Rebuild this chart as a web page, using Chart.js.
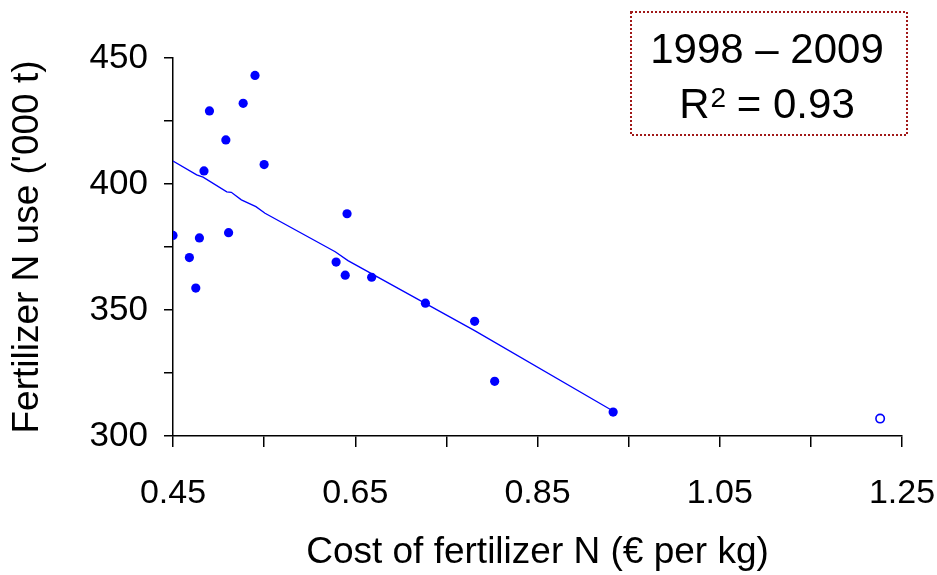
<!DOCTYPE html>
<html>
<head>
<meta charset="utf-8">
<script src="https://cdn.jsdelivr.net/npm/chart.js@4/dist/chart.umd.min.js"></script>
<style>
  html, body { margin: 0; padding: 0; background: #fff; }
  canvas { display: block; }
</style>
</head>
<body>
<canvas id="nChart" width="937" height="575"></canvas>
<script>
// cost of fertilizer N (euro per kg) vs N use ('000 t)
var costN = [0.540, 0.527, 0.490, 0.508, 0.550, 0.484, 0.450, 0.479, 0.511, 0.468, 0.475,
             0.641, 0.629, 0.639, 0.668, 0.727, 0.781, 0.803, 0.933];
var useN  = [443.1, 432.0, 429.0, 417.5, 407.7, 405.2, 379.6, 378.6, 380.7, 370.8, 358.7,
             388.2, 369.0, 363.8, 363.0, 352.7, 345.5, 321.7, 309.5];

// excluded year (open marker)
var outlierCost = [1.226];
var outlierUse  = [306.9];

// fitted line as drawn
var trendCost = [0.450, 0.476, 0.483, 0.509, 0.514, 0.525, 0.541, 0.551, 0.628, 0.642, 0.781, 0.931];
var trendUse  = [409.1, 403.6, 402.7, 396.9, 396.7, 393.7, 391.0, 388.4, 373.1, 369.6, 341.8, 310.3];

var xTickValues = [0.45, 0.55, 0.65, 0.75, 0.85, 0.95, 1.05, 1.15, 1.25];
var xTickLabels = ['0.45', '', '0.65', '', '0.85', '', '1.05', '', '1.25'];
var yTickValues = [300, 325, 350, 375, 400, 425, 450];
var yTickLabels = ['300', '', '350', '', '400', '', '450'];

var boxLine1 = '1998 \u2013 2009';
var boxR2 = '0.93';

function toPoints(xs, ys) {
    return xs.map(function(x, i) { return {x: x, y: ys[i]}; });
}

var fontName = '"Liberation Sans", Arial, sans-serif';

var boxPlugin = {
    id: 'r2box',
    afterDraw: function(chart) {
        var ctx = chart.ctx;
        ctx.save();
        ctx.strokeStyle = '#a01818';
        ctx.lineWidth = 2;
        ctx.setLineDash([2, 2]);
        ctx.strokeRect(631, 12, 276, 123);
        ctx.setLineDash([]);

        ctx.fillStyle = '#000';
        ctx.textBaseline = 'alphabetic';
        ctx.textAlign = 'center';
        ctx.font = '42px ' + fontName;
        ctx.fillText(boxLine1, 767, 63);

        // R^2 = 0.93
        ctx.textAlign = 'left';
        var big = '42px ' + fontName, small = '28px ' + fontName;
        ctx.font = big;
        var wR = ctx.measureText('R').width;
        var wRest = ctx.measureText(' = ' + boxR2).width;
        ctx.font = small;
        var w2 = ctx.measureText('2').width;
        var x0 = 767 - (wR + w2 + wRest) / 2;
        ctx.font = big;
        ctx.fillText('R', x0, 118);
        ctx.font = small;
        ctx.fillText('2', x0 + wR + 1, 107);
        ctx.font = big;
        ctx.fillText(' = ' + boxR2, x0 + wR + w2, 118);
        ctx.restore();
    }
};

var nCtx = document.getElementById('nChart').getContext('2d');

var nChart = new Chart(nCtx, {
    type: 'scatter',
    data: {
        datasets: [{
            data: toPoints(costN, useN),
            backgroundColor: '#0000ff',
            borderWidth: 0,
            pointRadius: 4.6
        }, {
            data: toPoints(outlierCost, outlierUse),
            backgroundColor: '#ffffff',
            borderColor: '#0000ff',
            borderWidth: 1.6,
            pointRadius: 4.2
        }, {
            data: toPoints(trendCost, trendUse),
            showLine: true,
            borderColor: '#0000ff',
            borderWidth: 1.3,
            pointRadius: 0,
            tension: 0
        }]
    },
    options: {
        responsive: false,
        animation: false,
        layout: {
            padding: {left: 0, right: 35, top: 58, bottom: 0}
        },
        plugins: {
            legend: {display: false},
            tooltip: {enabled: false}
        },
        scales: {
            x: {
                type: 'linear',
                min: 0.45,
                max: 1.25,
                afterBuildTicks: function(scale) {
                    scale.ticks = xTickValues.map(function(v) { return {value: v}; });
                },
                afterFit: function(scale) {
                    scale.height = 139;
                    scale.paddingLeft = 0;
                    scale.paddingRight = 0;
                },
                border: {display: true, color: '#000', width: 1.5},
                grid: {
                    display: true,
                    drawOnChartArea: false,
                    drawTicks: true,
                    tickLength: 11,
                    color: '#000',
                    lineWidth: 1.5
                },
                ticks: {
                    autoSkip: false,
                    maxRotation: 0,
                    padding: 26,
                    color: '#000',
                    font: {family: fontName, size: 34},
                    callback: function(v, i) { return xTickLabels[i]; }
                },
                title: {
                    display: true,
                    text: 'Cost of fertilizer N (\u20ac per kg)',
                    color: '#000',
                    font: {family: fontName, size: 37},
                    padding: {top: 0, bottom: 0}
                }
            },
            y: {
                min: 300,
                max: 450,
                afterBuildTicks: function(scale) {
                    scale.ticks = yTickValues.map(function(v) { return {value: v}; });
                },
                afterFit: function(scale) {
                    scale.width = 173;
                    scale.paddingTop = 0;
                    scale.paddingBottom = 0;
                },
                border: {display: true, color: '#000', width: 1.5},
                grid: {
                    display: true,
                    drawOnChartArea: false,
                    drawTicks: true,
                    tickLength: 9,
                    color: '#000',
                    lineWidth: 1.5
                },
                ticks: {
                    autoSkip: false,
                    padding: 16,
                    color: '#000',
                    font: {family: fontName, size: 35},
                    callback: function(v, i) { return yTickLabels[i]; }
                },
                title: {
                    display: true,
                    text: "Fertilizer N use ('000 t)",
                    color: '#000',
                    font: {family: fontName, size: 37},
                    padding: {top: 6, bottom: 0}
                }
            }
        }
    },
    plugins: [boxPlugin]
});
</script>
</body>
</html>
